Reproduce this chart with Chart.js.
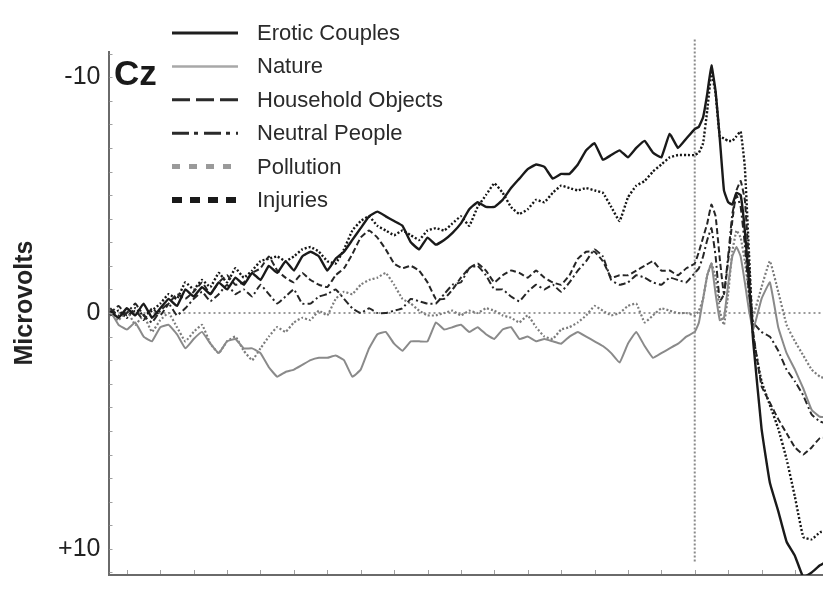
<!DOCTYPE html>
<html>
<head>
<meta charset="utf-8">
<script src="https://cdn.jsdelivr.net/npm/chart.js@4.4.0/dist/chart.umd.min.js"></script>
<style>
  html, body { margin: 0; padding: 0; background: #fff; }
  #wrap { width: 823px; height: 598px; position: relative; }
</style>
</head>
<body>
<div id="wrap"><canvas id="erp"></canvas></div>
<script>
// Grand-average ERP at Cz, time in ms relative to picture onset, amplitude in microvolts
const times = [
  -1750,-1725,-1700,-1675,-1650,-1625,-1600,-1575,-1550,-1525,
  -1500,-1475,-1450,-1425,-1400,-1375,-1350,-1325,-1300,-1275,
  -1250,-1225,-1200,-1175,-1150,-1125,-1100,-1075,-1050,-1025,
  -1000,-975,-950,-925,-900,-875,-850,-825,-800,-775,
  -750,-725,-700,-675,-650,-625,-600,-575,-550,-525,
  -500,-475,-450,-425,-400,-375,-350,-325,-300,-275,
  -250,-225,-200,-175,-150,-125,-100,-75,-50,-25,
  0,
  12.5,25,37.5,50,62.5,75,87.5,100,112.5,125,137.5,150,162.5,175,
  200,225,250,275,300,325,350,375,400
];

const eroticCouples = [
  -0.1,0.2,-0.2,0.1,-0.4,0.2,-0.2,-0.6,-0.3,-1.0,
  -0.7,-1.1,-0.8,-1.3,-1.0,-1.5,-1.2,-1.7,-1.4,-2.0,
  -1.7,-2.2,-1.8,-2.4,-2.6,-2.4,-1.8,-2.3,-2.6,-3.1,
  -3.6,-4.1,-4.3,-4.1,-3.9,-3.7,-3.0,-2.7,-3.2,-2.9,
  -3.1,-3.4,-3.8,-4.4,-4.7,-4.5,-4.5,-4.8,-5.3,-5.7,
  -6.1,-6.3,-6.2,-5.7,-5.9,-5.9,-6.3,-6.9,-7.2,-6.5,
  -6.7,-6.9,-6.6,-7.0,-7.3,-6.8,-6.6,-7.6,-7.0,-7.4,
  -7.8,
  -7.9,-8.3,-9.3,-10.5,-9.4,-7.4,-5.2,-4.7,-4.6,-5.1,-5.0,-3.5,-1.3,1.2,
  4.9,7.2,8.4,9.7,10.3,11.2,11.0,10.7,10.5
];

const nature = [
  -0.1,0.5,0.7,0.4,1.0,1.2,0.6,0.5,0.9,1.5,
  1.1,0.8,1.3,1.7,1.2,1.1,1.5,1.5,1.7,2.3,
  2.7,2.5,2.4,2.2,2.0,1.9,1.9,1.8,2.0,2.7,
  2.4,1.5,0.9,0.8,1.3,1.6,1.2,1.2,1.2,0.4,
  0.7,0.6,0.5,0.8,0.6,0.9,1.1,0.7,0.6,1.1,
  1.0,1.2,1.1,1.2,1.3,1.0,0.8,1.0,1.2,1.4,
  1.7,2.1,1.3,0.8,1.4,1.9,1.7,1.5,1.3,1.0,
  0.8,
  0.4,-0.6,-1.6,-2.1,-0.8,0.3,0.2,-1.2,-2.4,-2.8,-2.4,-1.3,-0.1,0.7,
  -0.6,-1.3,0.6,1.7,2.4,3.2,4.1,4.4,4.4
];

const householdObjects = [
  0.0,-0.3,0.1,-0.1,0.3,-0.2,0.1,-0.4,-0.8,-0.6,
  -0.9,-1.3,-0.8,-1.3,-1.6,-1.2,-1.3,-1.7,-1.9,-2.4,
  -1.8,-1.5,-1.3,-1.7,-1.4,-1.2,-1.1,-1.6,-1.9,-2.5,
  -3.2,-3.5,-3.2,-2.7,-2.1,-1.9,-2.0,-1.8,-1.3,-0.6,
  -0.6,-1.0,-1.5,-1.9,-2.1,-1.8,-1.3,-1.6,-1.8,-1.7,
  -1.5,-1.8,-1.5,-1.3,-1.2,-1.6,-2.3,-2.6,-2.6,-2.2,
  -1.5,-1.6,-1.6,-1.8,-2.0,-2.2,-1.8,-1.8,-1.6,-1.9,
  -2.1,
  -2.6,-3.2,-3.8,-4.6,-4.1,-2.3,-0.8,-2.2,-3.9,-5.2,-5.6,-4.8,-2.1,0.8,
  3.1,3.8,4.5,5.1,5.7,6.0,5.7,5.3,5.3
];

const neutralPeople = [
  -0.2,0.1,0.0,-0.4,0.1,0.4,-0.1,-0.4,0.1,-0.2,
  -0.6,-0.9,-0.5,-0.8,-1.2,-0.8,-1.0,-0.7,-1.2,-0.8,
  -0.4,-0.7,-1.0,-0.4,-0.4,-0.7,-0.8,-1.0,-0.6,-0.2,
  0.0,-0.2,0.0,0.0,-0.1,-0.2,-0.6,-0.5,-0.4,-0.4,
  -0.8,-1.2,-1.3,-1.9,-2.0,-1.6,-1.0,-1.0,-0.7,-0.5,
  -0.9,-1.2,-1.0,-1.2,-0.9,-1.3,-1.8,-2.2,-2.7,-2.4,
  -1.4,-1.2,-1.3,-1.6,-1.5,-1.3,-1.2,-1.5,-1.4,-1.3,
  -1.7,
  -1.9,-2.4,-3.1,-3.6,-2.4,-0.5,-0.8,-2.4,-4.2,-5.0,-4.5,-2.9,-0.8,0.4,
  0.8,1.0,1.6,2.4,2.9,3.5,4.3,4.6,4.7
];

const pollution = [
  0.0,0.3,-0.1,0.5,0.1,0.8,0.3,0.0,0.6,1.2,
  0.8,0.5,1.3,1.7,1.2,1.0,1.6,2.0,1.5,1.0,
  0.6,0.8,0.4,0.2,0.3,-0.1,0.1,-0.6,-0.9,-0.8,
  -1.2,-1.4,-1.5,-1.7,-1.2,-0.6,-0.4,-0.1,0.1,0.1,
  0.0,-0.1,0.1,-0.1,0.0,-0.2,-0.1,0.1,0.2,0.4,
  0.1,0.6,1.0,1.1,0.7,0.6,0.4,0.1,-0.3,-0.1,
  0.1,0.0,-0.3,-0.4,0.4,0.1,-0.2,-0.1,0.0,0.0,
  0.1,
  -0.1,-0.6,-1.6,-2.1,-1.5,-0.1,0.5,-0.8,-2.6,-3.5,-3.2,-2.2,-0.8,0.1,
  -1.1,-2.2,-0.9,0.5,1.2,1.8,2.4,2.7,2.8
];

const injuries = [
  0.1,-0.1,0.2,-0.2,0.1,-0.1,-0.4,-0.8,-0.6,-1.3,
  -1.0,-1.4,-1.1,-1.7,-1.3,-1.9,-1.5,-1.8,-2.2,-2.3,
  -2.4,-2.2,-2.4,-2.7,-2.8,-2.6,-2.2,-2.1,-2.7,-3.5,
  -3.9,-4.1,-3.7,-3.5,-3.3,-3.5,-3.3,-3.1,-3.5,-3.6,
  -3.5,-3.8,-4.1,-3.7,-4.5,-5.0,-5.5,-5.1,-4.5,-4.2,
  -4.4,-4.8,-4.7,-5.1,-5.4,-5.3,-5.2,-5.3,-5.2,-5.1,
  -4.5,-3.9,-4.9,-5.4,-5.6,-6.0,-6.3,-6.6,-6.7,-6.7,
  -6.7,
  -6.8,-7.2,-8.6,-10.2,-9.3,-7.5,-7.4,-7.3,-7.3,-7.5,-7.7,-6.2,-2.5,1.0,
  2.9,3.9,4.9,6.2,7.8,9.5,9.6,9.3,9.2
];

const seriesLabels = ['Erotic Couples', 'Nature', 'Household Objects', 'Neutral People', 'Pollution', 'Injuries'];
const seriesValues = [eroticCouples, nature, householdObjects, neutralPeople, pollution, injuries];
const yTickLabels = { '-10': '-10', '0': '0', '10': '+10' };
const electrodeName = 'Cz';
const yAxisTitle = 'Microvolts';
const onsetTime = 0;
const onsetSpan = [-11.6, 10.6];

const FONT = '"Liberation Sans", Arial, Helvetica, sans-serif';

// line style per condition: plot stroke, and the wider key drawn in the legend
const styles = [
  { color: '#1a1a1a', width: 2.4, dash: [],           keyColor: '#1e1e1e', keyWidth: 3,   keyDash: [] },
  { color: '#8a8a8a', width: 2,   dash: [],           keyColor: '#a8a8a8', keyWidth: 2.5, keyDash: [] },
  { color: '#262626', width: 2,   dash: [6, 3],       keyColor: '#2a2a2a', keyWidth: 3,   keyDash: [18, 6] },
  { color: '#262626', width: 2,   dash: [7, 3, 2, 3], keyColor: '#2a2a2a', keyWidth: 3,   keyDash: [17, 5, 4, 6] },
  { color: '#7c7c7c', width: 2.2, dash: [2, 2],       keyColor: '#9a9a9a', keyWidth: 5,   keyDash: [8, 9] },
  { color: '#161616', width: 2.4, dash: [2, 2],       keyColor: '#1a1a1a', keyWidth: 6,   keyDash: [10, 8] }
];

const datasets = seriesLabels.map((label, i) => ({
  label,
  data: times.map((t, k) => ({ x: t, y: seriesValues[i][k] })),
  borderColor: styles[i].color,
  borderWidth: styles[i].width,
  borderDash: styles[i].dash,
  keyStyle: styles[i],
  pointRadius: 0,
  tension: 0.1,
  fill: false
}));

const overlay = {
  id: 'erpOverlay',
  beforeDatasetsDraw(chart) {
    const { ctx, chartArea: a, scales: { x, y } } = chart;
    ctx.save();
    // zero baseline
    const y0 = y.getPixelForValue(0);
    ctx.strokeStyle = '#7a7a7a';
    ctx.lineWidth = 1.4;
    ctx.setLineDash([2, 3]);
    ctx.beginPath();
    ctx.moveTo(a.left, y0);
    ctx.lineTo(a.right, y0);
    ctx.stroke();
    // picture onset marker
    const xo = x.getPixelForValue(onsetTime);
    ctx.strokeStyle = '#8a8a8a';
    ctx.lineWidth = 2;
    ctx.setLineDash([2, 2]);
    ctx.beginPath();
    ctx.moveTo(xo, y.getPixelForValue(onsetSpan[0]));
    ctx.lineTo(xo, y.getPixelForValue(onsetSpan[1]));
    ctx.stroke();
    ctx.restore();
  },
  afterDraw(chart) {
    const { ctx, chartArea: a, scales: { x, y } } = chart;
    ctx.save();
    // small inward tick marks on both axes
    ctx.strokeStyle = '#a0a0a0';
    ctx.lineWidth = 1;
    ctx.setLineDash([]);
    ctx.beginPath();
    x.ticks.forEach(t => {
      const px = Math.round(x.getPixelForValue(t.value)) + 0.5;
      ctx.moveTo(px, a.bottom - 1);
      ctx.lineTo(px, a.bottom - 5);
    });
    y.ticks.forEach(t => {
      const py = Math.round(y.getPixelForValue(t.value)) + 0.5;
      ctx.moveTo(a.left + 1, py);
      ctx.lineTo(a.left + 4, py);
    });
    ctx.stroke();

    // axis title
    ctx.fillStyle = '#222';
    ctx.font = 'bold 25px ' + FONT;
    ctx.textAlign = 'center';
    ctx.textBaseline = 'middle';
    ctx.translate(25, 303);
    ctx.rotate(-Math.PI / 2);
    ctx.fillText(yAxisTitle, 0, 0);
    ctx.restore();

    ctx.save();
    // electrode label
    ctx.fillStyle = '#1a1a1a';
    ctx.font = 'bold 35px ' + FONT;
    ctx.textAlign = 'left';
    ctx.textBaseline = 'alphabetic';
    ctx.fillText(electrodeName, 114, 85);

    // legend keys
    chart.data.datasets.forEach((ds, i) => {
      const s = ds.keyStyle;
      const cy = 33 + i * 33.4;
      ctx.strokeStyle = s.keyColor;
      ctx.lineWidth = s.keyWidth;
      ctx.setLineDash(s.keyDash);
      ctx.lineCap = 'butt';
      ctx.beginPath();
      ctx.moveTo(172, cy);
      ctx.lineTo(238, cy);
      ctx.stroke();
      ctx.setLineDash([]);
      ctx.fillStyle = '#2a2a2a';
      ctx.font = '22px ' + FONT;
      ctx.textAlign = 'left';
      ctx.textBaseline = 'middle';
      ctx.fillText(ds.label, 257, cy + 1);
    });
    ctx.restore();
  }
};

new Chart(document.getElementById('erp'), {
  type: 'line',
  data: { datasets },
  options: {
    responsive: true,
    maintainAspectRatio: false,
    animation: false,
    layout: { padding: { top: 52, right: 0, bottom: 8, left: 0 } },
    plugins: { legend: { display: false }, tooltip: { enabled: false } },
    scales: {
      x: {
        type: 'linear',
        min: -1755,
        max: 384,
        ticks: { display: false, stepSize: 100, includeBounds: false },
        grid: { display: false, drawTicks: false },
        border: { display: true, color: '#6a6a6a', width: 2 },
        afterFit: s => { s.height = 0; }
      },
      y: {
        type: 'linear',
        reverse: true,
        min: -11.07,
        max: 11.11,
        ticks: {
          stepSize: 1,
          includeBounds: false,
          autoSkip: false,
          padding: 8,
          color: '#222',
          font: { family: FONT, size: 25 },
          callback: v => yTickLabels[String(v)] || ''
        },
        grid: { display: false, drawTicks: false },
        border: { display: true, color: '#6a6a6a', width: 2 },
        afterFit: s => { s.width = 108.5; }
      }
    }
  },
  plugins: [overlay]
});
</script>
</body>
</html>
